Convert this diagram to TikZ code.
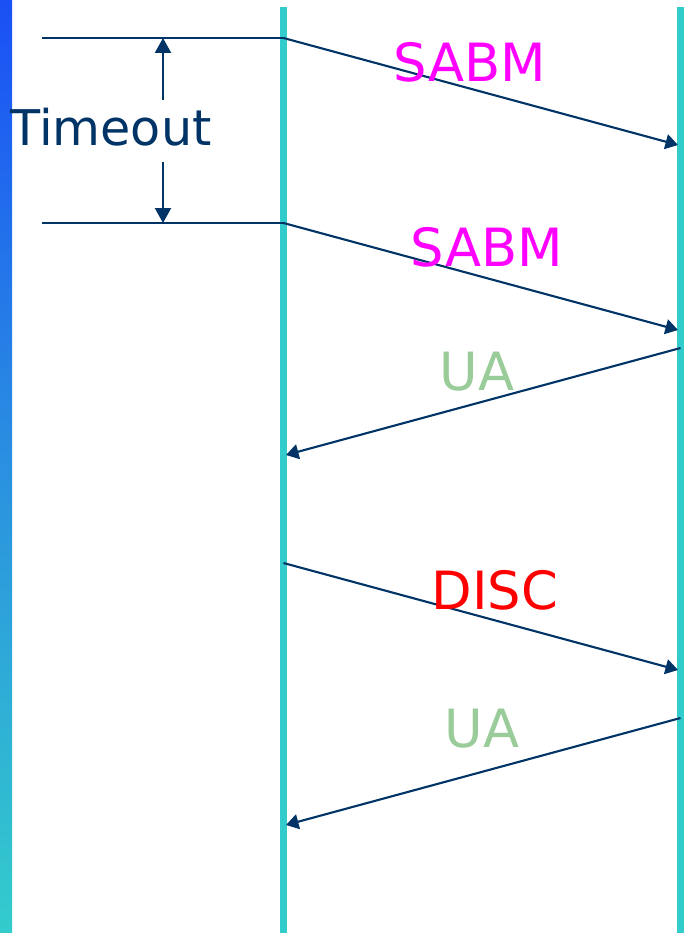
\documentclass[tikz,border=0pt]{standalone}
\usepackage{fontspec}
\setmainfont{DejaVu Sans}
\usetikzlibrary{arrows.meta, positioning}
\definecolor{seqTeal}{HTML}{33CCCC}
\definecolor{seqNavy}{HTML}{003366}
\definecolor{seqBlue}{HTML}{1A50F5}
\definecolor{seqMid}{HTML}{2A90E0}
\definecolor{lblMagenta}{HTML}{FF00FF}
\definecolor{lblGreen}{HTML}{99CC99}
\definecolor{lblRed}{HTML}{FF0000}
\tikzset{
  % lifelines and message arrows
  lifeline/.style = {seqTeal, line width=4pt},
  msg/.style      = {-{Triangle[length=2.5mm, width=3mm]}, seqNavy, line width=1.2pt},
  tick/.style     = {seqNavy, line width=0.9pt},
  span/.style     = {-{Triangle[length=3mm, width=3.2mm]}, seqNavy, line width=1.2pt},
  frame/.style    = {font=\fontsize{30}{34}\selectfont},
}

\begin{document}
\begin{tikzpicture}[x=0.02cm, y=-0.02cm]
  \useasboundingbox (0,0) rectangle (684,933);
  % --- left edge bar ------------------------------------------------------
  \shade[top color=seqBlue, bottom color=seqTeal, middle color=seqMid] (0,0) rectangle (12,933);
  % --- lifelines ------------------------------------------------------------
  \coordinate (aTop) at (283.5,7);  \coordinate (aBot) at (283.5,933);
  \coordinate (bTop) at (680.5,7);  \coordinate (bBot) at (680.5,933);
  \draw[lifeline] (aTop) -- (aBot);
  \draw[lifeline] (bTop) -- (bBot);
  % --- timeout interval -------------------------------------------------------
  \coordinate (t1) at (42,38);   \coordinate (a1) at (283.5,38);
  \coordinate (t2) at (42,223);  \coordinate (a2) at (283.5,223);
  \draw[tick] (t1) -- (a1);
  \draw[tick] (t2) -- (a2);
  \node[frame, text=seqNavy, font=\fontsize{28}{32}\selectfont] (tmo) at (111,127) {Timeout};
  \coordinate (s1) at (163,38);  \coordinate (s2) at (163,223);
  \draw[span] (163,100) -- (s1);
  \draw[span] (163,162) -- (s2);
  % --- messages -------------------------------------------------------------
  \coordinate (b1) at (678,145);
  \coordinate (b2) at (678,330);
  \coordinate (b3) at (680.5,348);  \coordinate (a3) at (286,455);
  \coordinate (a4) at (283.5,563);  \coordinate (b4) at (678,670);
  \coordinate (b5) at (680.5,718);  \coordinate (a5) at (286,825);
  \draw[msg] (a1) -- (b1);
  \draw[msg] (a2) -- (b2);
  \draw[msg] (b3) -- (a3);
  \draw[msg] (a4) -- (b4);
  \draw[msg] (b5) -- (a5);
  % --- labels ---------------------------------------------------------------
  \node[frame, text=lblMagenta] (sabm1) at (470,62)  {SABM};
  \node[frame, text=lblMagenta] (sabm2) at (487,247) {SABM};
  \node[frame, text=lblGreen]   (ua1)   at (477,372) {UA};
  \node[frame, text=lblRed]     (disc)  at (495,590) {DISC};
  \node[frame, text=lblGreen]   (ua2)   at (482,729) {UA};
\end{tikzpicture}
\end{document}
